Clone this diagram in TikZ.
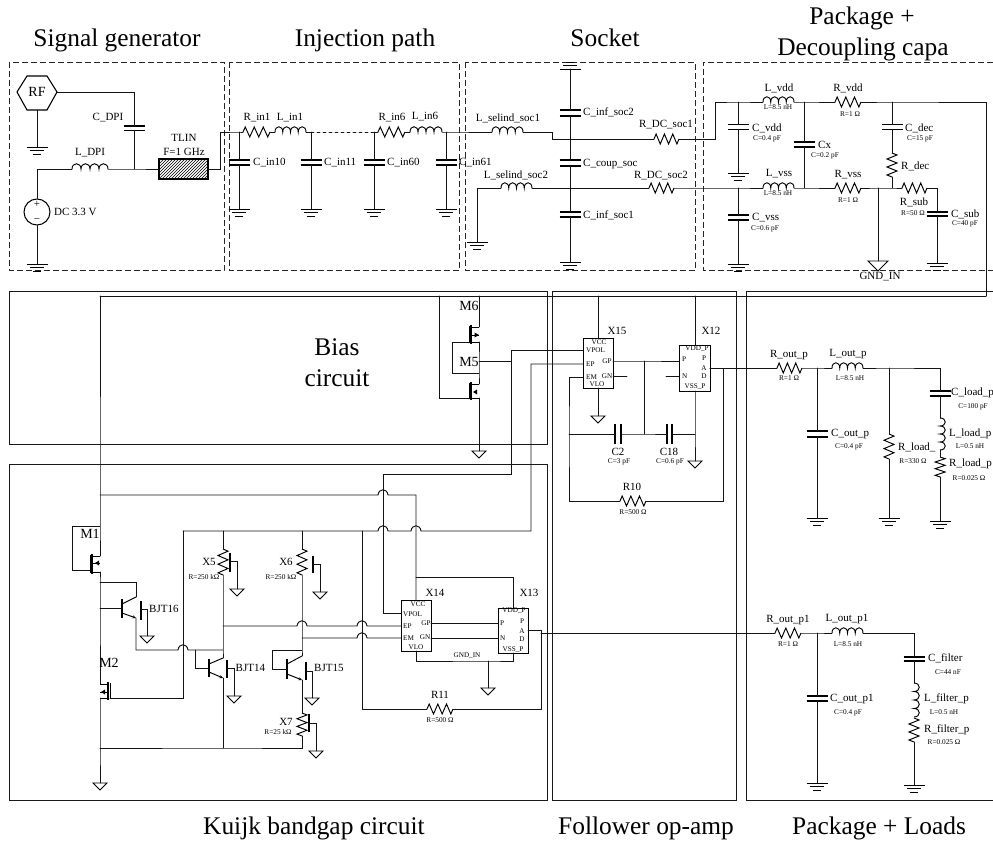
\documentclass[tikz,border=0pt]{standalone}
\usepackage{fontspec}
\setmainfont{Liberation Serif}
\usetikzlibrary{patterns,arrows.meta}
\tikzset{
  wire/.style={line width=.95pt,line cap=round,black!92},
  comp/.style={line width=.95pt,black},
  plate/.style={line width=1.1pt,black},
  dashbox/.style={line width=.9pt,black!85,dash pattern=on 6pt off 3pt},
  solidbox/.style={line width=1pt,black!90},
  title/.style={font=\fontsize{25.4}{27}\selectfont,inner sep=0pt},
  lab/.style={font=\fontsize{11}{12}\selectfont,inner sep=0pt},
  labl/.style={lab,anchor=west},
  big/.style={font=\fontsize{14}{15}\selectfont,inner sep=0pt},
  val/.style={font=\fontsize{7.3}{8}\selectfont,inner sep=0pt},
  pin/.style={font=\fontsize{7.2}{8}\selectfont,inner sep=0pt},
  pinl/.style={pin,anchor=west},
  ic/.style={draw,line width=1pt,inner sep=0pt,fill=white},
}
% horizontal / vertical resistors
\newcommand{\HR}[4]{\coordinate (#1-a) at (#2,#4);\coordinate (#1-b) at (#3,#4);
  \pgfmathsetmacro{\cStep}{(#3-#2)/12}
  \draw[comp] (#1-a) -- ++(\cStep,-5) -- ++(2*\cStep,10) -- ++(2*\cStep,-10) -- ++(2*\cStep,10) -- ++(2*\cStep,-10) -- ++(2*\cStep,10) -- (#1-b);}
\newcommand{\VR}[4]{\coordinate (#1-a) at (#2,#3);\coordinate (#1-b) at (#2,#4);
  \pgfmathsetmacro{\cStep}{(#4-#3)/12}
  \draw[comp] (#1-a) -- ++(5,\cStep) -- ++(-10,2*\cStep) -- ++(10,2*\cStep) -- ++(-10,2*\cStep) -- ++(10,2*\cStep) -- ++(-10,2*\cStep) -- (#1-b);}
% inductors
\newcommand{\HL}[4]{\coordinate (#1-a) at (#2,#4);\coordinate (#1-b) at (#3,#4);
  \pgfmathsetmacro{\cStep}{(#3-#2)/4}
  \draw[comp] (#1-a) .. controls +(0,-7) and +(0,-7) .. ++(\cStep,0)
    .. controls +(0,-7) and +(0,-7) .. ++(\cStep,0)
    .. controls +(0,-7) and +(0,-7) .. ++(\cStep,0)
    .. controls +(0,-7) and +(0,-7) .. ++(\cStep,0);}
\newcommand{\VL}[4]{\coordinate (#1-a) at (#2,#3);\coordinate (#1-b) at (#2,#4);
  \pgfmathsetmacro{\cStep}{(#4-#3)/4}
  \draw[comp] (#1-a) .. controls +(7,0) and +(7,0) .. ++(0,\cStep)
    .. controls +(7,0) and +(7,0) .. ++(0,\cStep)
    .. controls +(7,0) and +(7,0) .. ++(0,\cStep)
    .. controls +(7,0) and +(7,0) .. ++(0,\cStep);}
% capacitors
\newcommand{\VC}[4]{\coordinate (#1-a) at (#2,#3);\coordinate (#1-b) at (#2,#4);
  \draw[plate] (#2-10.5,#3) -- (#2+10.5,#3) (#2-10.5,#4) -- (#2+10.5,#4);}
\newcommand{\HC}[4]{\coordinate (#1-a) at (#2,#4);\coordinate (#1-b) at (#3,#4);
  \draw[plate] (#2,#4-10) -- (#2,#4+10) (#3,#4-10) -- (#3,#4+10);}
% grounds
\newcommand{\GND}[3]{\coordinate (#1) at (#2,#3);
  \draw[comp] (#2-10.5,#3) -- (#2+10.5,#3) (#2-7,#3+3.5) -- (#2+7,#3+3.5) (#2-4,#3+7) -- (#2+4,#3+7);}
\newcommand{\TRI}[4]{\coordinate (#1) at (#2,#3);
  \draw[comp,line join=miter] (#2-#4,#3) -- (#2+#4,#3) -- (#2,#3+#4) -- cycle;}
% MOS: name cx ty by dx gx gy arrow
\newcommand{\MOS}[8]{\coordinate (#1-d) at (#5,#3);\coordinate (#1-s) at (#5,#4);\coordinate (#1-g) at (#6,#7);
  \draw[comp] (#5,#3) -- (#2,#3) (#5,#4) -- (#2,#4) (#6,#3-1) -- (#6,#4+1);
  \draw[line width=1.2pt] (#2,#3-2) -- (#2,#4+2);
  #8}
\newcommand{\ARW}[5]{\draw[comp] (#1,#2) -- (#5,#2); \fill (#3,#2) -- (#4,#2-2.5) -- (#4,#2+2.5) -- cycle;}
% BJT: name bx ty by ex cy ey
\newcommand{\BJT}[7]{\coordinate (#1-c) at (#5,#6);\coordinate (#1-e) at (#5,#7);
  \draw[line width=1.1pt] (#2,#3) -- (#2,#4);
  \draw[comp] (#2,#3+5) -- (#1-c);
  \draw[comp,-{Stealth[length=3.5pt,width=3pt]}] (#2,#4-5) -- (#1-e);}
% substrate bar: name x ty by sy tx tri
\newcommand{\SUBS}[7]{\draw[line width=1.1pt] (#2,#3) -- (#2,#4);
  \TRI{#1}{#6}{#7}{7}
  \draw[wire] (#2,#5) -| (#1);}
\newcommand{\JP}[2]{-- (#1-5,#2) .. controls (#1-4,#2-7) and (#1+4,#2-7) .. (#1+5,#2)}

\begin{document}
\begin{tikzpicture}[x=1pt,y=-1pt]
\useasboundingbox (0,0) rectangle (993,842);
\fill[white] (0,0) rectangle (993,842);

%% ---- frames
\draw[dashbox] (9,62) rectangle (224,270.5);
\draw[dashbox] (229,62) rectangle (459,270.5);
\draw[dashbox] (465,62) rectangle (695,270.5);
\draw[dashbox] (993,62) -- (703,62) -- (703,270.5) -- (993,270.5);
\draw[solidbox] (9,292) rectangle (547,444);
\draw[solidbox] (9,464) rectangle (547,800);
\draw[solidbox] (552,292) rectangle (736,800);
\draw[solidbox] (993,292) -- (746,292) -- (746,800) -- (993,800);

%% ---- titles
\node[title,anchor=base] (T1) at (117,47) {Signal generator};
\node[title,anchor=base] (T2) at (365,47) {Injection path};
\node[title,anchor=base] (T3) at (605,47) {Socket};
\node[title,anchor=base] (T4a) at (862,25) {Package +};
\node[title,anchor=base] (T4b) at (863,56) {Decoupling capa};
\node[title] (T5a) at (337,347) {Bias};
\node[title] (T5b) at (337,378) {circuit};
\node[title,anchor=west] (T6) at (203,828) {Kuijk bandgap circuit};
\node[title,anchor=west] (T7) at (558,828) {Follower op-amp};
\node[title,anchor=west] (T8) at (792,828) {Package + Loads};

%% ---- signal generator
\draw[comp,line width=1.1pt] (17,92) -- (27,76) -- (47,76) -- (57,92) -- (47,110) -- (27,110) -- cycle;
\node[font=\fontsize{14}{15}\selectfont,inner sep=0pt] (RF) at (37,92) {RF};
\coordinate (RF-e) at (57,92); \coordinate (RF-s) at (37,110);
\GND{G1}{37}{147}
\draw[wire] (RF-s) -- (G1);
\VC{CDPI}{134}{126}{130.5}
\coordinate (J1) at (134,169);
\draw[wire] (RF-e) -| (CDPI-a);
\draw[wire] (CDPI-b) -- (J1);
\HL{LDPI}{72}{108}{169}
\node[draw,circle,line width=1pt,minimum size=26pt,inner sep=0pt] (V1) at (37,212) {};
\node[lab] (Vp) at (37,204) {+};
\node[lab] (Vm) at (37,221) {\textminus};
\GND{G2}{37}{264}
\draw[wire] (V1.north) |- (LDPI-a);
\draw[wire] (V1.south) -- (G2);
\node[draw,line width=1.2pt,pattern=north east lines,minimum width=49pt,minimum height=20pt,inner sep=0pt] (TLIN) at (183.5,169) {};
\draw[wire] (LDPI-b) -- (J1) -- (TLIN.west);
\node[lab] (tTL1) at (184,138) {TLIN};
\node[lab] (tTL2) at (184,152) {F=1 GHz};
\node[lab] (tLDPI) at (90,153) {L\_DPI};
\node[lab] (tCDPI) at (108,118) {C\_DPI};
\node[lab,anchor=west] (tDC) at (54,212) {DC 3.3 V};

%% ---- injection path
\HR{Rin1}{243}{270}{132}
\HL{Lin1}{275}{306}{132}
\HR{Rin6}{378}{405}{132}
\HL{Lin6}{410}{442}{132}
\coordinate (J10) at (239,132); \coordinate (J11) at (311,132);
\coordinate (J60) at (374,132); \coordinate (J61) at (446,132);
\draw[wire] (TLIN.east) -- (220,169) -- (220,132) -- (J10) -- (Rin1-a);
\draw[wire] (Rin1-b) -- (Lin1-a);
\draw[wire] (Lin1-b) -- (J11);
\draw[wire,dashed] (J11) -- (J60);
\draw[wire] (J60) -- (Rin6-a);
\draw[wire] (Rin6-b) -- (Lin6-a);
\VC{Cin10}{239}{160}{165} \GND{G10}{239}{209}
\VC{Cin11}{311}{160}{165} \GND{G11}{311}{209}
\VC{Cin60}{374}{160}{165} \GND{G60}{374}{209}
\VC{Cin61}{446}{160}{165} \GND{G61}{446}{209}
\draw[wire] (J10) -- (Cin10-a) (Cin10-b) -- (G10);
\draw[wire] (J11) -- (Cin11-a) (Cin11-b) -- (G11);
\draw[wire] (J60) -- (Cin60-a) (Cin60-b) -- (G60);
\draw[wire] (J61) -- (Cin61-a) (Cin61-b) -- (G61);
\node[lab] (tRin1) at (257,118) {R\_in1};
\node[lab] (tLin1) at (290,118) {L\_in1};
\node[lab] (tRin6) at (392,118) {R\_in6};
\node[lab] (tLin6) at (425,117) {L\_in6};
\node[labl] (tC10) at (253,163) {C\_in10};
\node[labl] (tC11) at (324,163) {C\_in11};
\node[labl] (tC60) at (387,163) {C\_in60};
\node[labl] (tC61) at (459,163) {C\_in61};

%% ---- socket
\HL{Lsoc1}{492}{523}{132}
\HR{Rsoc1}{654}{679}{139}
\HL{Lsoc2}{501}{532}{188}
\HR{Rsoc2}{649}{674}{188}
\draw[wire] (Lin6-b) -- (J61) -- (Lsoc1-a);
\draw[wire] (Lsoc1-b) -- (552,132) -- (552,139) -- (Rsoc1-a);
\GND{G20}{477}{242}
\draw[wire] (G20) |- (Lsoc2-a);
\draw[wire] (Lsoc2-b) -- (Rsoc2-a);
\coordinate (SocT) at (570,69);
\draw[comp] (559.5,69) -- (580.5,69) (563,65) -- (577,65) (566,62.5) -- (574,62.5);
\VC{Cs2}{570}{110}{116}
\VC{Cs3}{570}{160}{166}
\VC{Cs1}{570}{212}{217}
\GND{G21}{570}{262}
\draw[wire] (SocT) -- (Cs2-a);
\draw[wire] (Cs2-b) -- (Cs3-a);
\draw[wire] (Cs3-b) -- (Cs1-a);
\draw[wire] (Cs1-b) -- (G21);
\node[lab] (tLs1) at (508,118) {L\_selind\_soc1};
\node[lab] (tRs1) at (666,125) {R\_DC\_soc1};
\node[labl] (tCs2) at (583,112) {C\_inf\_soc2};
\node[labl] (tCs3) at (583,164) {C\_coup\_soc};
\node[lab] (tLs2) at (516,175) {L\_selind\_soc2};
\node[lab] (tRs2) at (661,176) {R\_DC\_soc2};
\node[labl] (tCs1) at (583,215) {C\_inf\_soc1};

%% ---- package + decoupling
\HL{Lvdd}{763}{794}{102}
\HR{Rvdd}{835}{861}{102}
\HL{Lvss}{763}{794}{188}
\HR{Rvss}{835}{861}{188}
\HR{Rsub}{902}{927}{188}
\VC{Cvdd}{738}{124.5}{129.5} \GND{G30}{738}{173}
\VC{Cvss}{738}{215}{220} \GND{G31}{738}{264}
\VC{Cx}{804}{142}{147}
\VC{Cdec}{892}{124.5}{129.5}
\VR{Rdec}{892}{153}{177}
\VC{Csub}{937}{212}{216} \GND{G32}{937}{263}
\TRI{GI}{878}{261}{10}
\coordinate (Jvd) at (738,102); \coordinate (Jcx) at (804,102); \coordinate (Jde) at (892,102);
\coordinate (Jvs) at (738,188); \coordinate (Jcy) at (804,188); \coordinate (Jgi) at (878,188); \coordinate (Jdb) at (892,188);
\coordinate (Rail1) at (986,102); \coordinate (Rail2) at (986,296);
\draw[wire] (Rsoc1-b) -- (715,139) -- (715,102) -- (Jvd) -- (Lvdd-a);
\draw[wire] (Lvdd-b) -- (Jcx) -- (Rvdd-a);
\draw[wire] (Rvdd-b) -- (Jde) -- (Rail1) -- (Rail2);
\draw[wire] (Jvd) -- (Cvdd-a) (Cvdd-b) -- (G30);
\draw[wire] (Jcx) -- (Cx-a) (Cx-b) -- (Jcy);
\draw[wire] (Jde) -- (Cdec-a) (Cdec-b) -- (Rdec-a) (Rdec-b) -- (Jdb);
\draw[wire] (Rsoc2-b) -- (Jvs) -- (Lvss-a);
\draw[wire] (Lvss-b) -- (Jcy) -- (Rvss-a);
\draw[wire] (Rvss-b) -- (Jgi) -- (Jdb) -- (Rsub-a);
\draw[wire] (Jgi) -- (GI);
\draw[wire] (Rsub-b) -| (Csub-a);
\draw[wire] (Csub-b) -- (G32);
\draw[wire] (Jvs) -- (Cvss-a) (Cvss-b) -- (G31);
\node[lab] (tLvdd) at (779,88) {L\_vdd};
\node[val] (vLvdd) at (778,107) {L=8.5 nH};
\node[lab] (tRvdd) at (848,88) {R\_vdd};
\node[val] (vRvdd) at (850,114) {R=1 Ω};
\node[labl] (tCvdd) at (752,128) {C\_vdd};
\node[val] (vCvdd) at (767,139) {C=0.4 pF};
\node[labl] (tCx) at (818,145) {Cx};
\node[val] (vCx) at (825,156) {C=0.2 pF};
\node[labl] (tCdec) at (905,128) {C\_dec};
\node[val] (vCdec) at (920,139) {C=15 pF};
\node[labl] (tRdec) at (901,166) {R\_dec};
\node[lab] (tLvss) at (779,174) {L\_vss};
\node[val] (vLvss) at (778,193) {L=8.5 nH};
\node[lab] (tRvss) at (848,175) {R\_vss};
\node[val] (vRvss) at (848,200) {R=1 Ω};
\node[lab] (tRsub) at (914,202) {R\_sub};
\node[val] (vRsub) at (913,213) {R=50 Ω};
\node[labl] (tCsub) at (951,214) {C\_sub};
\node[val] (vCsub) at (965,224) {C=40 pF};
\node[labl] (tCvss) at (752,218) {C\_vss};
\node[val] (vCvss) at (765,229) {C=0.6 pF};
\node[lab] (tGI) at (880,277) {GND\_IN};

%% ---- supply rail and left column
\coordinate (Top) at (100,296);
\draw[wire] (Rail2) -- (Top);
\MOS{M1}{92}{556}{572}{100}{90}{570}{\ARW{100}{563}{95}{99}{92}}
\MOS{M2}{108}{684}{698}{100}{110}{698}{\ARW{100}{692}{101}{105}{108}}
\TRI{G40}{100}{783}{7}
\coordinate (J495) at (100,495); \coordinate (J526) at (100,526);
\coordinate (J582) at (100,582); \coordinate (J608) at (100,608); \coordinate (J748) at (100,748);
\draw[wire] (Top) -- (J495) -- (J526) -- (M1-d);
\draw[wire] (J526) -- (72,526) -- (72,570) -- (M1-g);
\draw[wire] (M1-s) -- (J582) -- (J608) -- (M2-d);
\draw[wire] (M2-s) -- (J748) -- (G40);
\node[big] (tM1) at (90,534) {M1};
\node[big] (tM2) at (109,663) {M2};

%% ---- BJT16
\BJT{Q16}{122}{599}{618}{136}{597}{618}
\draw[wire] (J582) -- (136,582) -- (Q16-c);
\draw[wire] (J608) -- (122,608);
\SUBS{G41}{141}{601}{620}{609}{147}{636}
\node[labl] (tQ16) at (149,609) {BJT16};

%% ---- X5, X6
\coordinate (Bus1) at (183,531); \coordinate (J5t) at (223,531); \coordinate (J6t) at (302,531);
\VR{X5}{223}{549}{575}
\VR{X6}{302}{549}{575}
\SUBS{G42}{230}{553}{572}{561}{237}{589}
\SUBS{G43}{313}{556}{573}{564}{320}{592}
\draw[wire] (J5t) -- (X5-a);
\draw[wire] (J6t) -- (X6-a);
\node[lab] (tX5) at (209,562) {X5};
\node[val] (vX5) at (204,577) {R=250 kΩ};
\node[lab] (tX6) at (286,562) {X6};
\node[val] (vX6) at (281,577) {R=250 kΩ};

%% ---- BJT14, BJT15, X7
\BJT{Q14}{209}{659}{677}{223}{658}{678}
\BJT{Q15}{287}{659}{679}{302}{656}{680}
\SUBS{G44}{227}{660}{678}{668}{234}{696}
\SUBS{G45}{306}{662}{680}{671}{312}{698}
\VR{X7}{302}{713}{736}
\SUBS{G46}{309}{714}{732}{723}{316}{751}
\coordinate (J14c) at (223,650); \coordinate (J15c) at (302,650);
\coordinate (J14b) at (223,748); \coordinate (J7b) at (302,748);
\draw[wire] (X5-b) -- (J14c) -- (Q14-c);
\draw[wire] (Q14-e) -- (J14b);
\draw[wire] (Q15-e) -- (X7-a);
\draw[wire] (X7-b) -- (J7b) -- (J14b) -- (J748);
\draw[wire] (X6-b) -- (J15c) -- (Q15-c);
\draw[wire] (J15c) -- (272,650) -- (272,669) -- (287,669);
\draw[wire] (Q16-e) -- (136,650) \JP{183}{650} -- (J14c);
\draw[wire] (195,650) -- (195,668) -- (209,668);
\draw[wire] (M2-g) -- (183,698) -- (Bus1);
\node[labl] (tQ14) at (235.5,668) {BJT14};
\node[labl] (tQ15) at (314,668) {BJT15};
\node[lab] (tX7) at (286,722) {X7};
\node[val] (vX7) at (278,732) {R=25 kΩ};

%% ---- bias M5 / M6
\MOS{M6}{471}{327}{342}{479}{469}{342}{\ARW{471}{335}{479}{474.5}{479}}
\MOS{M5}{471}{384}{398}{479}{469}{398}{\ARW{479}{392}{473}{477}{479}}
\TRI{G50}{479}{451}{7}
\coordinate (Top6) at (479,296); \coordinate (Top5) at (439,296);
\coordinate (Jm) at (479,361); \coordinate (Jd) at (479,373);
\draw[wire] (Top6) -- (M6-d);
\draw[wire] (Top5) -- (439,398) -- (M5-g);
\draw[wire] (M6-g) -- (452,342) -- (452,373) -- (Jd);
\draw[wire] (M6-s) -- (Jm) -- (Jd) -- (M5-d);
\draw[wire] (M5-s) -- (G50);
\node[big] (tM6) at (469,306) {M6};
\node[big] (tM5) at (469,362) {M5};

%% ---- X15, X12
\node[ic,minimum width=30pt,minimum height=50pt] (X15) at (598,363) {};
\node[ic,minimum width=31pt,minimum height=46pt] (X12) at (694.5,368) {};
\coordinate (X15vcc) at (598,338); \coordinate (X15vlo) at (598,388);
\coordinate (X15vpol) at (583,350); \coordinate (X15ep) at (583,364); \coordinate (X15em) at (583,377);
\coordinate (X15gp) at (613,361); \coordinate (X15gn) at (613,376);
\coordinate (X12vdd) at (695,345); \coordinate (X12vss) at (695,391);
\coordinate (X12p) at (679,361); \coordinate (X12n) at (679,376); \coordinate (X12a) at (710,368);
\draw[wire] (598,296) -- (X15vcc);
\draw[wire] (695,296) -- (X12vdd);
\TRI{G51}{598}{416}{7}
\draw[wire] (X15vlo) -- (G51);
\TRI{G52}{695}{461}{7}
\coordinate (J434a) at (569,434); \coordinate (J434b) at (644,434); \coordinate (J434c) at (695,434);
\draw[wire] (X12vss) -- (J434c) -- (G52);
\draw[wire] (X15gp) -- (644,361) -- (X12p);
\draw[wire] (644,361) -- (J434b);
\draw[wire] (X15gn) -- (627,376);
\draw[wire] (666,376) -- (X12n);
\HC{C2}{615}{621}{434}
\HC{C18}{667}{672}{434}
\draw[wire] (J434a) -- (C2-a);
\draw[wire] (C2-b) -- (J434b) -- (C18-a);
\draw[wire] (C18-b) -- (J434c);
\HR{R10}{620}{646}{501}
\draw[wire] (X15em) -- (569,377) -- (J434a) -- (569,501) -- (R10-a);
\draw[wire] (R10-b) -- (723,501) -- (723,368) -- (X12a);
\node[lab] (tX15) at (617,331) {X15};
\node[lab] (tX12) at (711,331) {X12};
\node[pin] (p1) at (599,342) {VCC};
\node[pinl] (p2) at (586,350) {VPOL};
\node[pinl] (p3) at (586,364) {EP};
\node[pin] (p4) at (607,361) {GP};
\node[pinl] (p5) at (586,377) {EM};
\node[pin] (p6) at (607,376) {GN};
\node[pin] (p7) at (597,384) {VLO};
\node[pin] (p8) at (697,349) {VDD\_P};
\node[pinl] (p9) at (682,359) {P};
\node[pin] (p10) at (704,358) {P};
\node[pin] (p11) at (704,368) {A};
\node[pin] (p12) at (704,376) {D};
\node[pinl] (p13) at (682,376) {N};
\node[pin] (p14) at (695,387) {VSS\_P};
\node[lab] (tC2) at (618,452) {C2};
\node[val] (vC2) at (619,462) {C=3 pF};
\node[lab] (tC18) at (669,452) {C18};
\node[val] (vC18) at (670,462) {C=0.6 pF};
\node[lab] (tR10) at (632,487) {R10};
\node[val] (vR10) at (633,512) {R=500 Ω};

%% ---- X14, X13 and their nets
\node[ic,minimum width=30pt,minimum height=51pt] (X14) at (416,625.5) {};
\node[ic,minimum width=30pt,minimum height=45pt] (X13) at (513,630.5) {};
\coordinate (X14vcc) at (416,600); \coordinate (X14vlo) at (416,651);
\coordinate (X14vpol) at (401,613); \coordinate (X14ep) at (401,626); \coordinate (X14em) at (401,638);
\coordinate (X14gp) at (431,623); \coordinate (X14gn) at (431,638);
\coordinate (X13vdd) at (513,608); \coordinate (X13vss) at (513,653);
\coordinate (X13p) at (498,623); \coordinate (X13n) at (498,638); \coordinate (X13a) at (528,630);
\draw[wire] (Jm) -- (511,361);
\draw[wire] (X15vpol) -- (511,350) -- (511,474) -- (383,474) -- (383,613) -- (X14vpol);
\draw[wire] (J495) \JP{383}{495} -- (416,495) -- (X14vcc);
\draw[wire] (416,577) -- (513,577) -- (X13vdd);
\draw[wire] (Bus1) -- (J5t) -- (J6t) -- (362,531) \JP{383}{531} \JP{416}{531} -- (531,531) -- (531,364) -- (X15ep);
\draw[wire] (223,626) \JP{302}{626} \JP{362}{626} -- (X14ep);
\draw[wire] (302,638) \JP{362}{638} -- (X14em);
\draw[wire] (X14gp) -- (X13p);
\draw[wire] (X14gn) -- (X13n);
\coordinate (J488) at (488,661);
\TRI{G53}{488}{688}{7}
\draw[wire] (X14vlo) -- (416,661) -- (J488) -- (513,661) -- (X13vss);
\draw[wire] (J488) -- (G53);
\HR{R11}{427}{453}{709}
\draw[wire] (362,531) -- (362,709) -- (R11-a);
\draw[wire] (R11-b) -- (541,709) -- (541,630) -- (X13a);
\node[lab] (tX14) at (435,593) {X14};
\node[lab] (tX13) at (529,593) {X13};
\node[pin] (q1) at (418,604) {VCC};
\node[pinl] (q2) at (403,614) {VPOL};
\node[pinl] (q3) at (403,626) {EP};
\node[pin] (q4) at (426,623) {GP};
\node[pinl] (q5) at (403,638) {EM};
\node[pin] (q6) at (425,637) {GN};
\node[pin] (q7) at (416,647) {VLO};
\node[pin] (q8) at (514,611) {VDD\_P};
\node[pinl] (q9) at (500,623) {P};
\node[pin] (q10) at (522,621) {P};
\node[pin] (q11) at (522,631) {A};
\node[pin] (q12) at (522,639) {D};
\node[pinl] (q13) at (500,638) {N};
\node[pin] (q14) at (513,650) {VSS\_P};
\node[pin] (q15) at (467,656) {GND\_IN};
\node[lab] (tR11) at (440,695) {R11};
\node[val] (vR11) at (440,720) {R=500 Ω};

%% ---- upper load
\HR{Rop}{777}{802}{368}
\HL{Lop}{832}{863}{368}
\VC{Cop}{817}{431}{437} \GND{G60x}{817}{518}
\VR{Rl}{889}{434}{459} \GND{G61x}{889}{518}
\VC{Clp}{940}{391}{396}
\VL{Llp}{940}{418}{450}
\VR{Rlp}{940}{457}{477}
\GND{G62x}{940}{521}
\coordinate (Jo1) at (817,368); \coordinate (Jo2) at (889,368); \coordinate (Jo3) at (940,368);
\draw[wire] (X12a) -- (Rop-a);
\draw[wire] (Rop-b) -- (Jo1) -- (Lop-a);
\draw[wire] (Lop-b) -- (Jo2) -- (Jo3) -- (Clp-a);
\draw[wire] (Clp-b) -- (Llp-a);
\draw[wire] (Llp-b) -- (Rlp-a);
\draw[wire] (Rlp-b) -- (G62x);
\draw[wire] (Jo1) -- (Cop-a) (Cop-b) -- (G60x);
\draw[wire] (Jo2) -- (Rl-a) (Rl-b) -- (G61x);
\node[lab] (tRop) at (789,355) {R\_out\_p};
\node[val] (vRop) at (789,378) {R=1 Ω};
\node[lab] (tLop) at (848,354) {L\_out\_p};
\node[val] (vLop) at (850,378) {L=8.5 nH};
\node[labl] (tCop) at (831,434) {C\_out\_p};
\node[val] (vCop) at (849,447) {C=0.4 pF};
\node[labl] (tRl) at (898,447) {R\_load\_};
\node[val] (vRl) at (913,461) {R=330 Ω};
\node[labl] (tClp) at (951,393) {C\_load\_p};
\node[val] (vClp) at (973,407) {C=100 pF};
\node[labl] (tLlp) at (949,434) {L\_load\_p};
\node[val] (vLlp) at (970,446) {L=0.5 nH};
\node[labl] (tRlp) at (949,464) {R\_load\_p};
\node[val] (vRlp) at (969,478) {R=0.025 Ω};

%% ---- lower load
\HR{Rop1}{775}{801}{633}
\HL{Lop1}{832}{863}{633}
\VC{Cop1}{817}{696}{701} \GND{G70}{817}{783}
\VC{Cf}{914}{657}{661}
\VL{Lf}{914}{683}{717}
\VR{Rf}{914}{718}{742}
\GND{G71}{914}{785}
\coordinate (Jp1) at (817,633); \coordinate (Jp2) at (914,633);
\draw[wire] (541,633) -- (Rop1-a);
\draw[wire] (Rop1-b) -- (Jp1) -- (Lop1-a);
\draw[wire] (Lop1-b) -- (Jp2) -- (Cf-a);
\draw[wire] (Cf-b) -- (Lf-a);
\draw[wire] (Rf-b) -- (G71);
\draw[wire] (Jp1) -- (Cop1-a) (Cop1-b) -- (G70);
\node[lab] (tRop1) at (788,620) {R\_out\_p1};
\node[val] (vRop1) at (788,644) {R=1 Ω};
\node[lab] (tLop1) at (847,619) {L\_out\_p1};
\node[val] (vLop1) at (848,644) {L=8.5 nH};
\node[labl] (tCop1) at (830,699) {C\_out\_p1};
\node[val] (vCop1) at (848,713) {C=0.4 pF};
\node[labl] (tCf) at (928,658) {C\_filter};
\node[val] (vCf) at (948,672) {C=44 nF};
\node[labl] (tLf) at (924,699) {L\_filter\_p};
\node[val] (vLf) at (944,712) {L=0.5 nH};
\node[labl] (tRf) at (924,730) {R\_filter\_p};
\node[val] (vRf) at (944,742) {R=0.025 Ω};
\end{tikzpicture}
\end{document}
